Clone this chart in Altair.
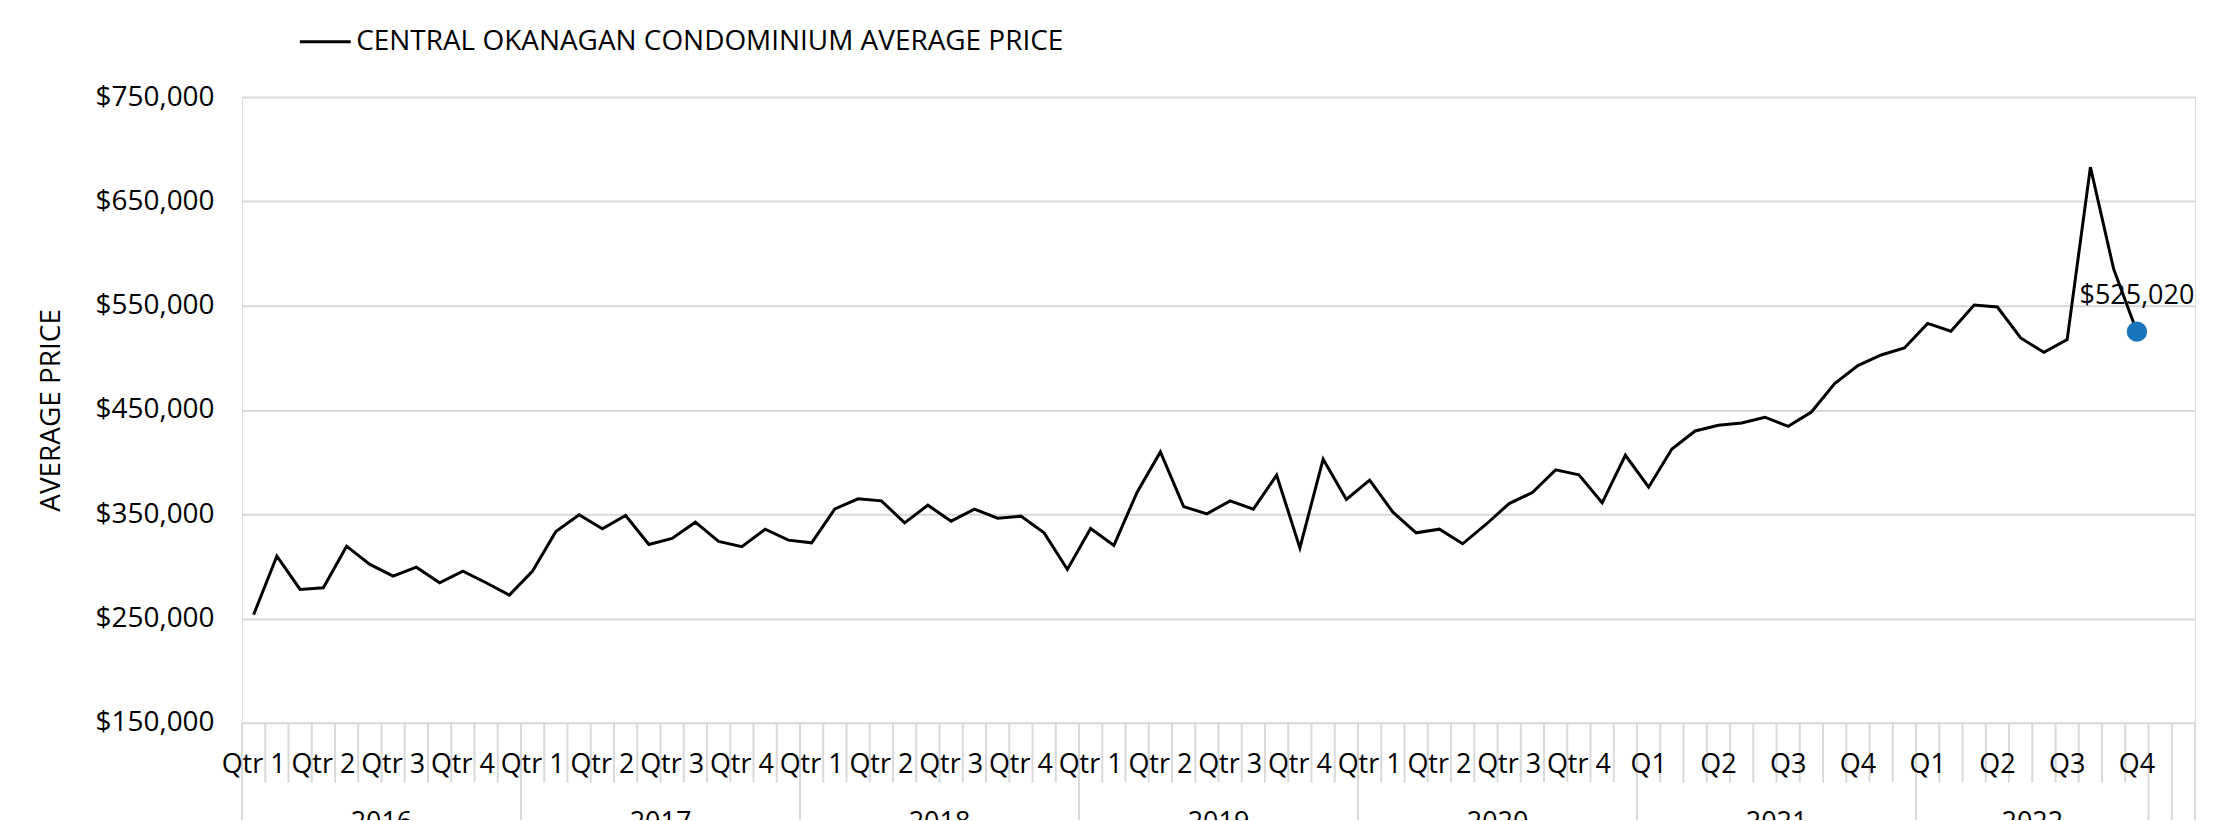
import altair as alt
import pandas as pd

# ---- data ----
years = ["2016", "2017", "2018", "2019", "2020", "2021", "2022"]
months_shown = [12, 12, 12, 12, 12, 12, 10]   # 2022 runs Jan-Oct
total_slots = 84                               # Nov/Dec 2022 are empty slots
quarter_labels = {
    "2016": ["Qtr 1", "Qtr 2", "Qtr 3", "Qtr 4"],
    "2017": ["Qtr 1", "Qtr 2", "Qtr 3", "Qtr 4"],
    "2018": ["Qtr 1", "Qtr 2", "Qtr 3", "Qtr 4"],
    "2019": ["Qtr 1", "Qtr 2", "Qtr 3", "Qtr 4"],
    "2020": ["Qtr 1", "Qtr 2", "Qtr 3", "Qtr 4"],
    "2021": ["Q1", "Q2", "Q3", "Q4"],
    "2022": ["Q1", "Q2", "Q3", "Q4"],
}
prices = [
    253500, 309700, 277800, 279400, 319300, 301800, 290600, 299200, 284200, 295400, 284200, 272400,
    295400, 333400, 349400, 336000, 348700, 320900, 326700, 342300, 323800, 318900, 335600, 325100,
    322500, 355100, 364700, 362800, 341700, 358600, 343300, 354800, 346200, 348100, 332100, 297000,
    336300, 320000, 371100, 409700, 357300, 350300, 362800, 354800, 387400, 317700, 402700, 364100,
    382600, 351900, 332100, 335600, 321600, 340100, 360200, 370800, 392500, 387700, 360900, 406500,
    375900, 412500, 429800, 435300, 437500, 443000, 434300, 448000, 475200, 492500, 502700, 509400,
    533000, 525400, 550600, 548700, 519000, 505300, 517400, 682900, 585100, 525020,
]
series_name = "CENTRAL OKANAGAN CONDOMINIUM AVERAGE PRICE"
y_title = "AVERAGE PRICE"
y_ticks = [150000, 250000, 350000, 450000, 550000, 650000, 750000]

# ---- tables built from the arrays ----
W, H = 1957.5, 627
FONT = "Open Sans"
GRID = "#d9d9d9"

line_df = pd.DataFrame({"pos": [i + 0.5 for i in range(len(prices))], "price": prices})
last_df = line_df.tail(1).assign(label="$" + f"{prices[-1]:,}")

year_starts = []
s = 0
for c in months_shown:
    year_starts.append(s)
    s += c
q_rows, y_rows = [], []
for yname, st, cnt in zip(years, year_starts, months_shown):
    for q, lab in enumerate(quarter_labels[yname]):
        q_rows.append({"pos": st + 3 * q + 0.5, "lab": lab})
    y_rows.append({"pos": st + cnt / 2, "lab": yname})
q_df = pd.DataFrame(q_rows)
yr_df = pd.DataFrame(y_rows)

long_b = set(year_starts) | set(range(s, total_slots + 1))
tick_df = pd.DataFrame({"b": list(range(total_slots + 1))})
tick_df["long"] = tick_df["b"].isin(long_b)

xs = alt.Scale(domain=[0, total_slots], nice=False, zero=False)
ys = alt.Scale(domain=[y_ticks[0], y_ticks[-1]], nice=False, zero=False)
X = lambda f: alt.X(f, type="quantitative", scale=xs, axis=None)

short_ticks = alt.Chart(tick_df).transform_filter("!datum.long").mark_rule(
    color=GRID, strokeWidth=2).encode(x=X("b"), y=alt.value(H), y2=alt.value(H + 60))
long_ticks = alt.Chart(tick_df).transform_filter("datum.long").mark_rule(
    color=GRID, strokeWidth=2).encode(x=X("b"), y=alt.value(H), y2=alt.value(H + 160))

line = alt.Chart(line_df).mark_line(color="black", strokeWidth=3).encode(
    x=X("pos"),
    y=alt.Y("price:Q", scale=ys, axis=alt.Axis(
        values=y_ticks, format="$,.0f", grid=True, gridColor=GRID, gridWidth=2,
        ticks=False, domain=False, labelFontSize=28, labelFont=FONT, labelColor="black",
        labelPadding=28, title=y_title, titleFont=FONT, titleFontSize=28,
        titleFontWeight="normal", titleColor="black", titleX=-191, titleY=H / 2,
        titleAngle=270, titleAlign="center", titleBaseline="middle")),
)
dot = alt.Chart(last_df).mark_circle(size=415, color="#1874bd", opacity=1).encode(
    x=X("pos"), y=alt.Y("price:Q", scale=ys))
dot_label = alt.Chart(last_df).mark_text(
    dy=-36, fontSize=27, font=FONT, color="black").encode(
    x=X("pos"), y=alt.Y("price:Q", scale=ys), text="label:N")

q_text = alt.Chart(q_df).mark_text(fontSize=27, font=FONT, color="black", baseline="middle").encode(
    x=X("pos"), y=alt.value(H + 42), text="lab:N")
yr_text = alt.Chart(yr_df).mark_text(fontSize=27, font=FONT, color="black", baseline="middle").encode(
    x=X("pos"), y=alt.value(H + 101), text="lab:N")

leg_df = pd.DataFrame({"t": [series_name]})
leg_line = alt.Chart(leg_df).mark_rule(color="black", strokeWidth=3).encode(
    x=alt.value(58), x2=alt.value(109), y=alt.value(-55.4))
leg_text = alt.Chart(leg_df).mark_text(align="left", baseline="middle", fontSize=28,
                                         font=FONT, color="black").encode(
    x=alt.value(114.5), y=alt.value(-55.4), text="t:N")

chart = alt.layer(
    short_ticks, long_ticks, line, dot, dot_label, q_text, yr_text, leg_line, leg_text
).properties(
    width=W, height=H,
    autosize=alt.AutoSizeParams(type="none"),
    padding={"left": 234.5, "top": 88.4, "right": 20, "bottom": 97},
).configure_view(stroke=None).configure(background="white")

chart.save("out.html", embed_options={"renderer": "svg", "actions": False})
